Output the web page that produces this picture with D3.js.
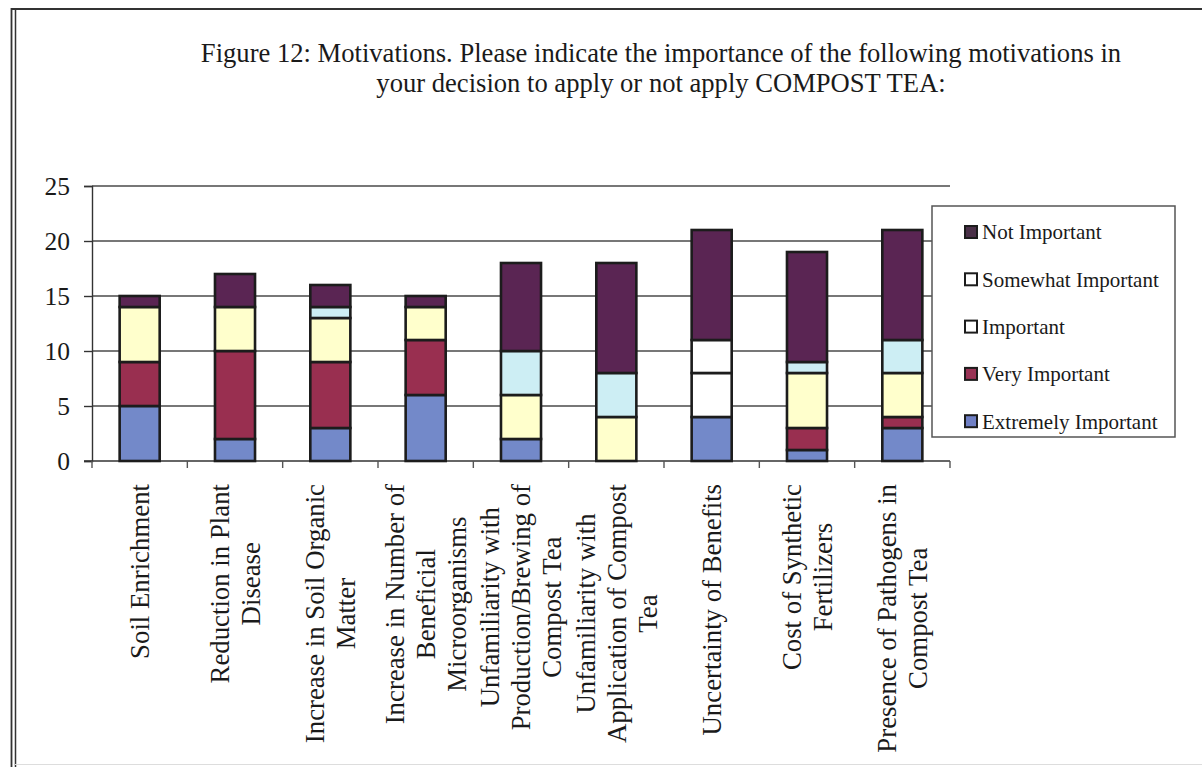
<!DOCTYPE html>
<html>
<head>
<meta charset="utf-8">
<script src="https://cdn.jsdelivr.net/npm/d3@7"></script>
<style>
  html, body { margin: 0; padding: 0; background: #fff; }
  svg { display: block; }
  text { font-family: "Liberation Serif", "Times New Roman", serif; fill: #1a1a1a; }
</style>
</head>
<body>
<svg id="chart" width="1202" height="767"></svg>
<script>
// Survey categories (x axis), lines split as printed under each column
const categories = [
  "Soil Enrichment",
  "Reduction in Plant Disease",
  "Increase in Soil Organic Matter",
  "Increase in Number of Beneficial Microorganisms",
  "Unfamiliarity with Production/Brewing of Compost Tea",
  "Unfamiliarity with Application of Compost Tea",
  "Uncertainty of Benefits",
  "Cost of Synthetic Fertilizers",
  "Presence of Pathogens in Compost Tea"
];
const categoryLines = [
  ["Soil Enrichment"],
  ["Reduction in Plant", "Disease"],
  ["Increase in Soil Organic", "Matter"],
  ["Increase in Number of", "Beneficial", "Microorganisms"],
  ["Unfamiliarity with", "Production/Brewing of", "Compost Tea"],
  ["Unfamiliarity with", "Application of Compost", "Tea"],
  ["Uncertainty of Benefits"],
  ["Cost of Synthetic", "Fertilizers"],
  ["Presence of Pathogens in", "Compost Tea"]
];

// Response counts per importance level (stacked bottom to top)
const extremelyImportant = [5, 2, 3, 6, 2, 0, 4, 1, 3];
const veryImportant      = [4, 8, 6, 5, 0, 0, 0, 2, 1];
const important          = [5, 4, 4, 3, 4, 4, 4, 5, 4];
const somewhatImportant  = [0, 0, 1, 0, 4, 4, 3, 1, 3];
const notImportant       = [1, 3, 2, 1, 8, 10, 10, 10, 10];

const seriesNames = ["Extremely Important", "Very Important", "Important", "Somewhat Important", "Not Important"];
const seriesColors = ["#7389c9", "#992f50", "#ffffcc", "#cdeef4", "#5a2553"];
const legendSwatchColors = ["#6f7fc4", "#993355", "#ffffff", "#ffffff", "#4a3048"];
// Column whose light bands were printed without tint
const untintedColumn = "Uncertainty of Benefits";

const yTicks = [0, 5, 10, 15, 20, 25];
const titleLines = [
  "Figure 12: Motivations. Please indicate the importance of the following motivations in",
  "your decision to apply or not apply COMPOST TEA:"
];

const svg = d3.select("#chart");

// Page frame
svg.append("line").attr("x1", 11).attr("x2", 1202).attr("y1", 9).attr("y2", 9)
  .attr("stroke", "#333").attr("stroke-width", 2.2);
svg.append("line").attr("x1", 11.5).attr("x2", 11.5).attr("y1", 8).attr("y2", 767)
  .attr("stroke", "#333").attr("stroke-width", 1.8);
svg.append("line").attr("x1", 15.5).attr("x2", 15.5).attr("y1", 10).attr("y2", 767)
  .attr("stroke", "#333").attr("stroke-width", 1.5);
svg.append("line").attr("x1", 15).attr("x2", 1202).attr("y1", 764.5).attr("y2", 764.5)
  .attr("stroke", "#ddd").attr("stroke-width", 1);

// Title
svg.append("g").selectAll("text").data(titleLines).join("text")
  .attr("x", 661).attr("y", (d, i) => 62 + i * 30)
  .attr("text-anchor", "middle")
  .attr("font-size", 26.6)
  .text(d => d);

const x0 = 92, x1 = 950, yTop = 186, yBase = 461;
const x = d3.scaleBand().domain(categories).range([x0, x1]).paddingInner(0.58).paddingOuter(0.29);
const y = d3.scaleLinear().domain([0, 25]).range([yBase, yTop]);

// Gridlines
svg.append("g").selectAll("line").data(yTicks.filter(t => t > 0)).join("line")
  .attr("x1", x0).attr("x2", x1)
  .attr("y1", d => y(d)).attr("y2", d => y(d))
  .attr("stroke", "#4a4a4a").attr("stroke-width", 1.4);

// Y axis
const yAxis = svg.append("g").attr("transform", `translate(${x0},0)`)
  .call(d3.axisLeft(y).tickValues(yTicks).tickSize(8).tickPadding(14));
yAxis.select(".domain").attr("stroke", "#333").attr("stroke-width", 1.4);
yAxis.selectAll(".tick line").attr("stroke", "#333").attr("stroke-width", 1.4);
yAxis.selectAll(".tick text").attr("font-size", 25.5).attr("font-family", "Liberation Serif").attr("fill", "#1a1a1a");

// X axis with ticks at column boundaries
const xAxisG = svg.append("g");
xAxisG.append("line").attr("x1", x0 - 8).attr("x2", x1).attr("y1", yBase).attr("y2", yBase)
  .attr("stroke", "#333").attr("stroke-width", 1.4);
const boundaries = categories.map(c => x(c) - x.step() * x.paddingInner() / 2).concat([x1]);
xAxisG.selectAll("line.tk").data(boundaries).join("line").attr("class", "tk")
  .attr("x1", d => d).attr("x2", d => d).attr("y1", yBase).attr("y2", yBase + 7)
  .attr("stroke", "#555").attr("stroke-width", 1.4);

// Stacked bars
const rows = categories.map((c, i) => ({
  category: c,
  "Extremely Important": extremelyImportant[i],
  "Very Important": veryImportant[i],
  "Important": important[i],
  "Somewhat Important": somewhatImportant[i],
  "Not Important": notImportant[i]
}));
const stacked = d3.stack().keys(seriesNames)(rows);
const color = d3.scaleOrdinal().domain(seriesNames).range(seriesColors);

const barG = svg.append("g");
stacked.forEach(layer => {
  barG.append("g").selectAll("rect")
    .data(layer.filter(d => d[1] - d[0] > 0))
    .join("rect")
    .attr("x", d => x(d.data.category))
    .attr("width", x.bandwidth())
    .attr("y", d => y(d[1]))
    .attr("height", d => y(d[0]) - y(d[1]))
    .attr("fill", d => (d.data.category === untintedColumn &&
      (layer.key === "Important" || layer.key === "Somewhat Important")) ? "#ffffff" : color(layer.key))
    .attr("stroke", "#1c1c1c")
    .attr("stroke-width", 2.6);
});

// Category labels, rotated, lines centred within each block
const labelG = svg.append("g");
categories.forEach((c, i) => {
  const lines = categoryLines[i];
  const cx = x(c) + x.bandwidth() / 2;
  const g = labelG.append("g");
  const texts = g.selectAll("text").data(lines).join("text")
    .attr("font-size", 26.8)
    .attr("text-anchor", "middle")
    .attr("dy", "0.35em")
    .text(d => d);
  const maxLen = d3.max(texts.nodes(), n => n.getComputedTextLength());
  const lineGap = 31;
  texts.attr("transform", (d, j) => {
    const lx = cx + (j - (lines.length - 1) / 2) * lineGap;
    const ly = 484 + maxLen / 2;
    return `translate(${lx},${ly}) rotate(-90)`;
  });
});

// Legend
const legend = svg.append("g");
legend.append("rect").attr("x", 932).attr("y", 206).attr("width", 243).attr("height", 231)
  .attr("fill", "#fff").attr("stroke", "#555").attr("stroke-width", 1.5);
const legendOrder = seriesNames.slice().reverse();
const items = legend.selectAll("g.item").data(legendOrder).join("g").attr("class", "item")
  .attr("transform", (d, i) => `translate(965,${232 + i * 47.3})`);
items.append("rect").attr("x", 0).attr("y", -6).attr("width", 12).attr("height", 12)
  .attr("fill", d => legendSwatchColors[seriesNames.indexOf(d)])
  .attr("stroke", "#1c1c1c").attr("stroke-width", 2);
items.append("text").attr("x", 17).attr("dy", "0.35em")
  .attr("font-size", 21).text(d => d);
</script>
</body>
</html>
